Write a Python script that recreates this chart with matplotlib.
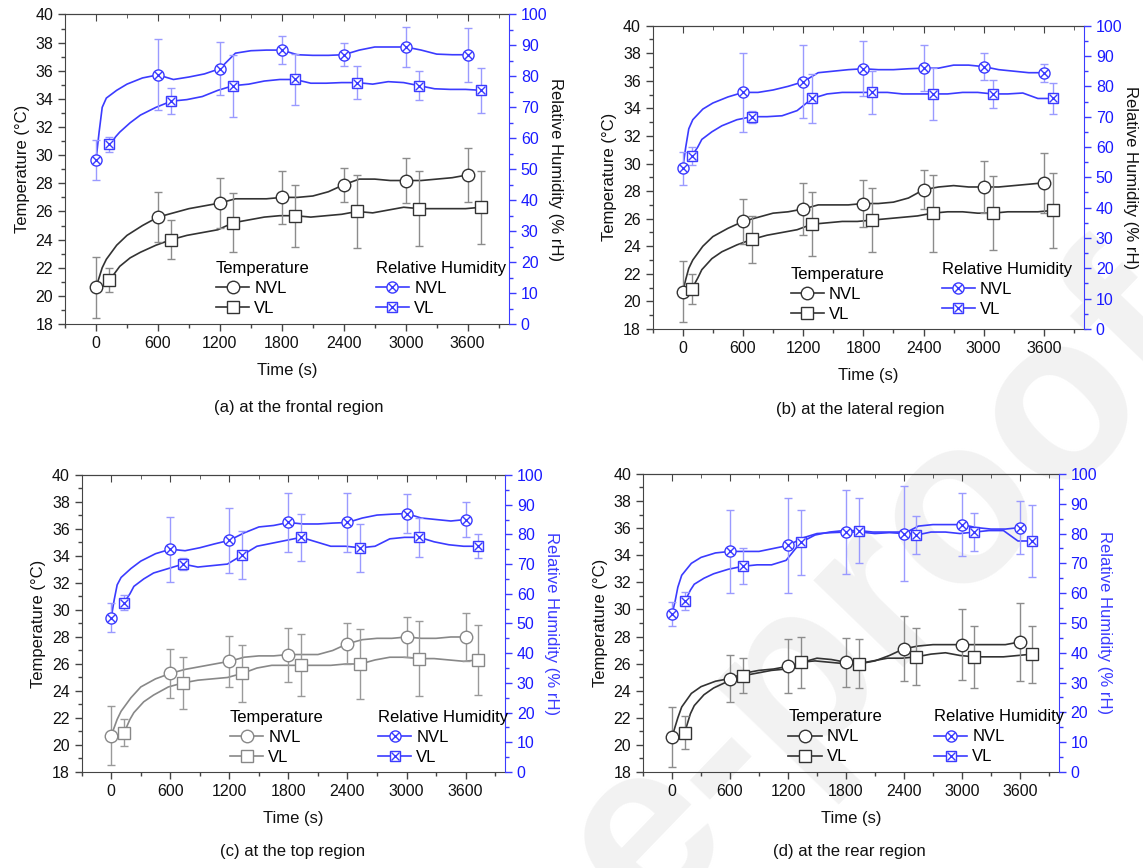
import numpy as np
import matplotlib.pyplot as plt
from matplotlib.lines import Line2D
from matplotlib.ticker import MultipleLocator

plt.rcParams['font.family'] = ['Liberation Sans', 'DejaVu Sans']

# time grid of the logged curves (s) and the times that carry markers
T = np.array([0, 30, 60, 100, 200, 300, 450, 600, 750, 900, 1050, 1200, 1350, 1500,
              1650, 1800, 1950, 2100, 2250, 2400, 2550, 2700, 2850, 3000, 3150, 3300,
              3450, 3600])
MARK_T = [0, 600, 1200, 1800, 2400, 3000, 3600]

# (a) frontal
a_t_nvl = [20.6, 21.3, 22.0, 22.6, 23.6, 24.3, 25.0, 25.6, 25.9, 26.2, 26.4, 26.6, 26.9, 26.9,
           26.9, 27.0, 27.0, 27.1, 27.4, 27.9, 28.3, 28.3, 28.2, 28.2, 28.2, 28.3, 28.4, 28.6]
a_t_vl = [21.1, 21.4, 21.7, 22.1, 22.7, 23.1, 23.6, 24.0, 24.3, 24.5, 24.7, 25.2, 25.4, 25.6,
          25.7, 25.7, 25.6, 25.7, 25.8, 26.0, 25.9, 26.1, 26.3, 26.2, 26.2, 26.2, 26.2, 26.3]
a_rh_nvl = [53, 62, 70, 73, 75.5, 77.5, 79.5, 80.5, 79, 79.8, 80.8, 82.5, 87.5, 88.3,
            88.5, 88.5, 87, 86.8, 86.8, 87, 88.5, 89.5, 89.5, 89.5, 88.5, 87.2, 87, 87]
a_rh_vl = [58, 59, 60.5, 62, 65, 67.5, 70, 72, 72.5, 73.5, 75.5, 77, 77.5, 78.5,
           79, 79, 77.8, 77.8, 78, 78, 77.5, 78.3, 78, 77, 76, 75.8, 75.8, 75.5]
a_t_nvl_err = [2.15, 1.8, 1.8, 1.9, 1.2, 1.6, 1.9]
a_t_vl_err = [0.85, 1.4, 2.1, 2.2, 2.6, 2.65, 2.6]
a_rh_nvl_err = [6.5, 11.5, 8.5, 4.4, 3.8, 6.4, 8.7]
a_rh_vl_err = [2.5, 4.3, 10, 8.1, 5.3, 4.6, 7.3]

# (b) lateral
b_t_nvl = [20.7, 21.6, 22.4, 23.0, 24.0, 24.7, 25.3, 25.8, 26.1, 26.4, 26.5, 26.7, 27.0, 27.0,
           27.0, 27.1, 27.1, 27.2, 27.5, 28.1, 28.3, 28.4, 28.3, 28.3, 28.3, 28.4, 28.5, 28.6]
b_t_vl = [20.9, 21.3, 21.7, 22.3, 23.1, 23.6, 24.1, 24.5, 24.8, 25.0, 25.2, 25.6, 25.7, 25.8,
          25.8, 25.9, 26.0, 26.1, 26.2, 26.4, 26.5, 26.5, 26.4, 26.4, 26.5, 26.5, 26.5, 26.6]
b_rh_nvl = [53, 60, 66, 69, 72.5, 74.5, 76.5, 78, 78, 78.8, 80, 81.5, 84.5, 85,
            85.5, 85.8, 85.5, 85.5, 85.8, 86, 86, 87, 87, 86.5, 85.5, 85, 84.5, 84.5]
b_rh_vl = [57, 58.5, 60, 62.5, 65, 67, 69, 70, 70, 70.3, 72, 76, 77.5, 78,
           78, 78, 78, 77.5, 77.5, 77.5, 77.5, 78, 78, 77.5, 77.5, 77.8, 76, 76]
b_t_nvl_err = [2.2, 1.6, 1.9, 1.7, 1.4, 1.9, 2.2]
b_t_vl_err = [1.1, 1.7, 2.3, 2.3, 2.8, 2.7, 2.7]
b_rh_nvl_err = [5.5, 13, 12, 9, 7.5, 4.5, 3]
b_rh_vl_err = [3, 2, 8, 7, 8.5, 4.5, 5]

# (c) top
c_t_nvl = [20.7, 21.3, 21.9, 22.5, 23.5, 24.3, 24.9, 25.3, 25.6, 25.8, 26.0, 26.2, 26.5, 26.6,
           26.6, 26.7, 26.7, 26.7, 27.0, 27.5, 27.8, 27.9, 27.9, 28.0, 27.9, 27.9, 28.0, 28.0]
c_t_vl = [20.9, 21.4, 21.9, 22.4, 23.2, 23.7, 24.3, 24.6, 24.8, 24.9, 25.0, 25.3, 25.7, 25.9,
          25.9, 25.9, 25.9, 25.9, 26.0, 26.0, 26.3, 26.5, 26.5, 26.4, 26.4, 26.3, 26.2, 26.3]
c_rh_nvl = [52, 58, 63, 65.5, 68.5, 71, 73.5, 75, 74.5, 75.5, 76.8, 78, 80.5, 82.5,
            83, 84, 83.5, 83.5, 83.8, 84, 85.5, 86.5, 86.8, 87, 85.5, 85, 84.5, 85]
c_rh_vl = [57, 58.5, 60, 62.5, 65, 67, 68.5, 70, 69, 69.5, 70, 73, 76, 77,
           78, 79, 77.5, 76, 76, 75.5, 76, 78.5, 79, 79, 77.5, 76.5, 76, 76]
c_t_nvl_err = [2.2, 1.8, 1.9, 2.0, 1.5, 1.5, 1.8]
c_t_vl_err = [1.0, 1.9, 2.1, 2.3, 2.6, 2.8, 2.6]
c_rh_nvl_err = [5, 11, 11, 10, 10, 6.5, 6]
c_rh_vl_err = [2.5, 2, 8, 8, 8, 6.5, 4]

# (d) rear
d_t_nvl = [20.6, 21.3, 22.0, 22.8, 23.8, 24.3, 24.7, 24.9, 25.3, 25.5, 25.6, 25.8, 26.1, 26.4,
           26.3, 26.1, 26.0, 26.2, 26.6, 27.1, 27.3, 27.4, 27.4, 27.4, 27.4, 27.4, 27.4, 27.6]
d_t_vl = [20.9, 21.6, 22.3, 22.9, 23.7, 24.2, 24.7, 25.1, 25.3, 25.5, 25.6, 26.1, 26.2, 26.1,
          26.0, 26.0, 26.2, 26.4, 26.4, 26.5, 26.7, 26.8, 26.6, 26.5, 26.5, 26.5, 26.6, 26.7]
d_rh_nvl = [53, 57, 62, 66, 70, 72, 73.5, 74, 74, 74, 75, 76, 78.5, 80,
            80.3, 80.5, 80.5, 80, 80.3, 80, 82.5, 83, 83, 83, 82, 81.5, 81.5, 82]
d_rh_vl = [57.5, 59, 61, 63, 65, 66.5, 68, 69, 69.5, 69.5, 71, 77, 79.5, 80.5,
           81, 81, 80.5, 80.5, 80.5, 79.5, 80.5, 80.5, 80, 80.5, 81, 81, 77.5, 77.5]
d_t_nvl_err = [2.2, 1.7, 2.0, 1.8, 2.4, 2.6, 2.9]
d_t_vl_err = [1.2, 1.3, 1.9, 1.8, 2.1, 2.3, 2.1]
d_rh_nvl_err = [4, 14, 16, 14, 16, 10.5, 9]
d_rh_vl_err = [3, 6, 11, 11, 6.5, 6.5, 12]

captions = ['(a) at the frontal region', '(b) at the lateral region',
            '(c) at the top region', '(d) at the rear region']

BLUE = '#3b3bff'
LBLUE = '#9a9aff'

fig = plt.figure(figsize=(11.43, 8.68), dpi=100)

# watermark (only part of it is on the page, as in the source)
fig.text(1.138, 0.716, 'e-proofs', rotation=46, rotation_mode='anchor',
         ha='right', va='baseline', fontsize=170, fontweight='bold',
         color='#f2f2f2', zorder=-1)


def panel(rect, t_nvl, t_vl, rh_nvl, rh_vl, e_tn, e_tv, e_rn, e_rv, shift,
          tcol, rcol, leg_t, leg_r, cap, cap_xy):
    ax = fig.add_axes(rect)
    ax.set_facecolor('none')
    ax2 = ax.twinx()
    m = np.isin(T, MARK_T)
    t_nvl = np.array(t_nvl)
    t_vl = np.array(t_vl)
    rh_nvl = np.array(rh_nvl)
    rh_vl = np.array(rh_vl)
    Tv = T + shift
    ecol = '#8c8c8c' if tcol != '#888888' else '#9a9a9a'

    ax.plot(T, t_nvl, color=tcol, lw=1.2, zorder=2)
    ax.plot(Tv, t_vl, color=tcol, lw=1.2, zorder=2)
    ax.errorbar(T[m], t_nvl[m], yerr=e_tn, fmt='o', ms=9, mfc='white', mec=tcol,
                mew=1.0, ecolor=ecol, elinewidth=1, capsize=3, zorder=3)
    ax.errorbar(Tv[m], t_vl[m], yerr=e_tv, fmt='s', ms=8.5, mfc='white', mec=tcol,
                mew=1.0, ecolor=ecol, elinewidth=1, capsize=3, zorder=3)

    ax2.plot(T, rh_nvl, color=BLUE, lw=1.2, zorder=2)
    ax2.plot(Tv, rh_vl, color=BLUE, lw=1.2, zorder=2)
    ax2.errorbar(T[m], rh_nvl[m], yerr=e_rn, fmt='o', ms=8, mfc='white', mec=BLUE,
                 mew=1.0, ecolor=LBLUE, elinewidth=1, capsize=3, zorder=3)
    ax2.plot(T[m], rh_nvl[m], 'x', ms=5.5, color=BLUE, mew=1.0, zorder=4)
    ax2.errorbar(Tv[m], rh_vl[m], yerr=e_rv, fmt='s', ms=7.5, mfc='white', mec=BLUE,
                 mew=1.0, ecolor=LBLUE, elinewidth=1, capsize=3, zorder=3)
    ax2.plot(Tv[m], rh_vl[m], 'x', ms=6, color=BLUE, mew=1.0, zorder=4)

    ax.set_xlim(-300, 4000)
    ax.set_ylim(18, 40)
    ax2.set_ylim(0, 100)
    ax.set_xticks(MARK_T)
    ax.xaxis.set_minor_locator(MultipleLocator(300))
    ax.set_yticks(range(18, 41, 2))
    ax.yaxis.set_minor_locator(MultipleLocator(1))
    ax2.set_yticks(range(0, 101, 10))
    ax2.yaxis.set_minor_locator(MultipleLocator(5))

    for s in ['left', 'bottom', 'top']:
        ax.spines[s].set_color('#444444')
    ax.spines['right'].set_visible(False)
    for s in ['left', 'bottom', 'top']:
        ax2.spines[s].set_visible(False)
    ax2.spines['right'].set_color(BLUE)

    ax.tick_params(which='both', direction='out', colors='#444444', labelcolor='#111111',
                   labelsize=11.5, width=1)
    ax.tick_params(which='major', length=5)
    ax.tick_params(which='minor', length=3)
    ax2.tick_params(which='both', direction='out', colors=BLUE, labelcolor='#1a1aff',
                    labelsize=11.5, width=1)
    ax2.tick_params(which='major', length=5)
    ax2.tick_params(which='minor', length=3)

    top = ax.secondary_xaxis('top')
    top.set_xticks(MARK_T)
    top.xaxis.set_minor_locator(MultipleLocator(300))
    top.tick_params(which='both', direction='in', labeltop=False, colors='#444444')
    top.tick_params(which='major', length=5)
    top.tick_params(which='minor', length=3)
    top.spines['top'].set_color('#444444')

    ax.set_xlabel('Time (s)', fontsize=12, color='#111111', labelpad=9)
    ax.set_ylabel('Temperature (°C)', fontsize=12, color='#111111', labelpad=4)
    ax2.set_ylabel('Relative Humidity (% rH)', fontsize=12, color=rcol,
                   rotation=270, labelpad=11)

    th = [Line2D([], [], color=tcol, lw=1.2, marker='o', ms=9, mfc='white', mec=tcol),
          Line2D([], [], color=tcol, lw=1.2, marker='s', ms=8.5, mfc='white', mec=tcol)]
    ax.legend(th, ['NVL', 'VL'], title='Temperature', loc='upper left',
              bbox_to_anchor=leg_t, frameon=False, fontsize=12, title_fontsize=12,
              handlelength=2.0, handletextpad=0.3, labelspacing=0.3,
              borderpad=0, borderaxespad=0, alignment='left')
    rh_h = [(Line2D([], [], color=BLUE, lw=1.2, marker='o', ms=8, mfc='white', mec=BLUE),
             Line2D([], [], ls='none', marker='x', ms=5.5, color=BLUE)),
            (Line2D([], [], color=BLUE, lw=1.2, marker='s', ms=7.5, mfc='white', mec=BLUE),
             Line2D([], [], ls='none', marker='x', ms=6, color=BLUE))]
    ax2.legend(rh_h, ['NVL', 'VL'], title='Relative Humidity', loc='upper left',
               bbox_to_anchor=leg_r, frameon=False, fontsize=12, title_fontsize=12,
               handlelength=2.0, handletextpad=0.3, labelspacing=0.3,
               borderpad=0, borderaxespad=0, alignment='left')
    fig.text(cap_xy[0], cap_xy[1], cap, ha='center', va='center', fontsize=12,
             color='#111111')


panel([0.0569, 0.6267, 0.3884, 0.3566], a_t_nvl, a_t_vl, a_rh_nvl, a_rh_vl,
      a_t_nvl_err, a_t_vl_err, a_rh_nvl_err, a_rh_vl_err, 130,
      '#333333', '#111111', (0.34, 0.205), (0.70, 0.205), captions[0], (0.261, 0.530))
panel([0.5710, 0.6210, 0.3774, 0.3494], b_t_nvl, b_t_vl, b_rh_nvl, b_rh_vl,
      b_t_nvl_err, b_t_vl_err, b_rh_nvl_err, b_rh_vl_err, 90,
      '#333333', '#111111', (0.32, 0.205), (0.67, 0.22), captions[1], (0.753, 0.528))
panel([0.0715, 0.1106, 0.3703, 0.3422], c_t_nvl, c_t_vl, c_rh_nvl, c_rh_vl,
      c_t_nvl_err, c_t_vl_err, c_rh_nvl_err, c_rh_vl_err, 130,
      '#888888', BLUE, (0.35, 0.21), (0.70, 0.21), captions[2], (0.256, 0.019))
panel([0.5626, 0.1106, 0.3635, 0.3434], d_t_nvl, d_t_vl, d_rh_nvl, d_rh_vl,
      d_t_nvl_err, d_t_vl_err, d_rh_nvl_err, d_rh_vl_err, 130,
      '#333333', BLUE, (0.35, 0.21), (0.70, 0.21), captions[3], (0.743, 0.019))

fig.savefig('out.png', dpi=100)
